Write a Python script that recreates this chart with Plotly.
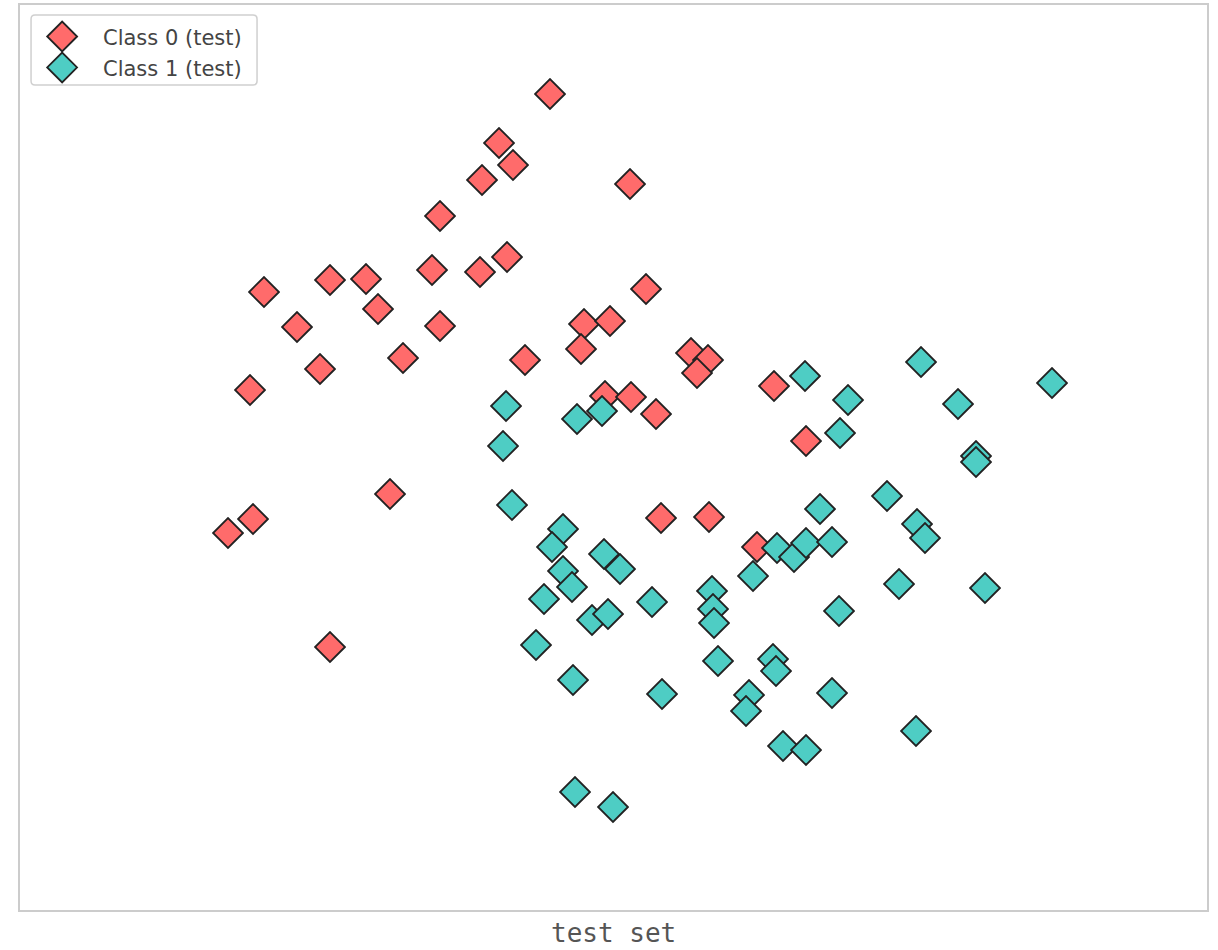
import plotly.graph_objects as go

# Test-set samples (feature 0, feature 1) for each class
class0_x = [550, 499, 513, 482, 630, 440, 264, 330, 366, 432, 480, 507, 646, 378,
            297, 440, 584, 610, 581, 320, 403, 525, 691, 708, 697, 250, 605, 631,
            656, 774, 806, 390, 228, 253, 661, 709, 757, 330]
class0_y = [856, 807, 785, 770, 766, 734, 658, 670, 671, 680, 678, 693, 661, 641,
            623, 624, 626, 629, 601, 581, 592, 590, 597, 590, 577, 560, 554, 553,
            536, 564, 509, 456, 417, 431, 432, 433, 403, 303]

class1_x = [805, 921, 1052, 848, 958, 840, 976, 976, 506, 503, 577, 602, 512, 887,
            820, 917, 925, 563, 552, 604, 620, 563, 572, 544, 592, 608, 652, 712,
            713, 714, 536, 777, 794, 806, 832, 753, 899, 839, 985, 718, 773, 776,
            749, 746, 832, 662, 573, 783, 806, 916, 575, 613]
class1_y = [574, 588, 567, 550, 546, 517, 494, 488, 544, 504, 531, 539, 445, 454,
            441, 426, 412, 421, 403, 396, 381, 379, 363, 351, 330, 336, 348, 359,
            341, 327, 305, 402, 393, 407, 408, 374, 366, 339, 362, 289, 291, 279,
            255, 239, 257, 256, 270, 204, 200, 219, 158, 143]

class_names = ["Class 0 (test)", "Class 1 (test)"]
class_colors = ["#FF6B6B", "#4ECDC4"]
series = [(class0_x, class0_y), (class1_x, class1_y)]
x_title = "test set"

EDGE = "#222222"
EDGE_WIDTH = 1.8
MARKER_SIZE = 23

fig = go.Figure()
for (xs, ys), name, color in zip(series, class_names, class_colors):
    fig.add_trace(go.Scatter(
        x=xs, y=ys, mode="markers", name=name, showlegend=False,
        marker=dict(symbol="diamond", size=MARKER_SIZE, color=color,
                    line=dict(color=EDGE, width=EDGE_WIDTH)),
    ))

# Legend drawn on an overlay axis pair spanning the plot area (0..1 each way)
leg_left, leg_right, leg_top, leg_bottom = 0.0093, 0.1997, 0.989, 0.9116
rx, ry = 4 / 1187, 4 / 905
legend_path = (
    f"M {leg_left + rx},{leg_top} L {leg_right - rx},{leg_top} "
    f"Q {leg_right},{leg_top} {leg_right},{leg_top - ry} "
    f"L {leg_right},{leg_bottom + ry} "
    f"Q {leg_right},{leg_bottom} {leg_right - rx},{leg_bottom} "
    f"L {leg_left + rx},{leg_bottom} "
    f"Q {leg_left},{leg_bottom} {leg_left},{leg_bottom + ry} "
    f"L {leg_left},{leg_top - ry} "
    f"Q {leg_left},{leg_top} {leg_left + rx},{leg_top} Z"
)
fig.add_shape(type="path", path=legend_path, xref="paper", yref="paper",
              line=dict(color="#d0d0d0", width=1.5),
              fillcolor="white", layer="below")

entry_marker_x = 0.0355
entry_text_x = 0.0683
entry_y = [0.9652, 0.9310]
for name, color, ey in zip(class_names, class_colors, entry_y):
    fig.add_trace(go.Scatter(
        x=[entry_marker_x], y=[ey], mode="markers", xaxis="x2", yaxis="y2",
        showlegend=False, hoverinfo="skip",
        marker=dict(symbol="diamond", size=MARKER_SIZE, color=color,
                    line=dict(color=EDGE, width=EDGE_WIDTH)),
    ))
    fig.add_annotation(x=entry_text_x, y=ey - 0.002, xref="paper", yref="paper",
                       text=name, showarrow=False, xanchor="left",
                       yanchor="middle",
                       font=dict(family="DejaVu Sans", size=21, color="#444444"))

# Axis caption under the frame, its box ending at the bottom of the page
fig.add_annotation(x=0.5, y=-0.0435, xref="paper", yref="paper", text=x_title,
                   showarrow=False, xanchor="center", yanchor="bottom",
                   borderpad=0,
                   font=dict(family="DejaVu Sans Mono", size=26, color="#555555"))

axis_common = dict(showgrid=False, zeroline=False, showticklabels=False,
                   ticks="")

fig.update_layout(
    width=1218, height=950,
    margin=dict(l=20, r=11, t=5, b=40, autoexpand=False),
    paper_bgcolor="white", plot_bgcolor="white",
    font=dict(family="DejaVu Sans", color="#444444"),
    xaxis=dict(range=[20, 1207], showline=True, mirror=True,
               linecolor="#cccccc", linewidth=1.5, **axis_common),
    yaxis=dict(range=[40, 945], showline=True, mirror=True,
               linecolor="#cccccc", linewidth=1.5, **axis_common),
    xaxis2=dict(range=[0, 1], overlaying="x", visible=False, **axis_common),
    yaxis2=dict(range=[0, 1], overlaying="y", visible=False, **axis_common),
    showlegend=False,
)

fig.write_html("out.html")
